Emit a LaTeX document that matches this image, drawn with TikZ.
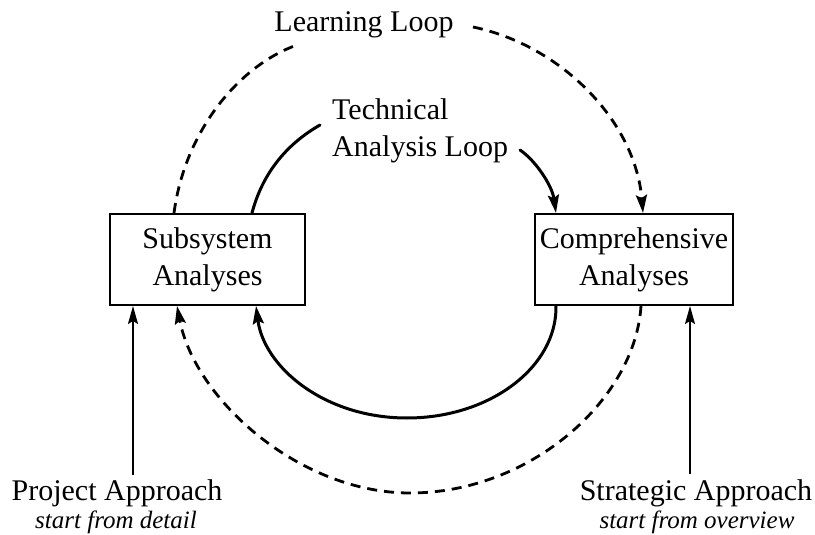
\documentclass[tikz,border=0pt]{standalone}
\usepackage{fontspec}
\setmainfont{Liberation Serif}
\usetikzlibrary{arrows.meta,calc}
\begin{document}
\begin{tikzpicture}[x=1pt,y=-1pt,
  box/.style={draw, line width=2pt, minimum width=195pt, minimum height=91pt, inner sep=0pt, align=center, font=\fontsize{30}{37}\selectfont},
  lbl/.style={font=\fontsize{30}{37}\selectfont, inner sep=0pt, align=center},
  sublbl/.style={font=\fontsize{25}{30}\selectfont\itshape, inner sep=0pt},
  tip/.style={-{Stealth[length=18pt,width=11pt,inset=3pt]}},
  solidline/.style={line width=3pt, line cap=round},
  dashline/.style={line width=2.8pt, dash pattern=on 10pt off 7pt},
  thinline/.style={line width=1.6pt, -{Stealth[length=18pt,width=10pt,inset=3pt]}}
]
\useasboundingbox (0,0) rectangle (815,535);

% boxes
\node[box] (S) at (207.5,259.5) {Subsystem\\Analyses};
\node[box, minimum width=198pt] (C) at (634,259.5) {Comprehensive\\Analyses};

% labels
\node[lbl] (LL) at (364,25) {Learning Loop};
\node[lbl, align=left, anchor=west] (TL) at (332,131) {Technical\\Analysis Loop};
\node[lbl] (PA) at (117,493) {Project Approach};
\node[sublbl] (PAs) at (116,522) {start from detail};
\node[lbl] (SA) at (696,493) {Strategic Approach};
\node[sublbl] (SAs) at (697,522) {start from overview};

% free ends
\coordinate (ll1) at (297,45);
\coordinate (ll2) at (473,27);
\coordinate (tl1) at (320,125);
\coordinate (tl2) at (520,150);
\coordinate (pa) at (133,475);
\coordinate (sa) at (690,474);

% learning loop (top)
\draw[dashline] ([xshift=65pt]S.north west) .. controls (185,130) and (240,65) .. (ll1);
\draw[dashline, tip] (ll2) .. controls (560,45) and (635,120) .. ([xshift=109pt]C.north west);

% technical analysis loop (top)
\draw[solidline] ([xshift=143pt]S.north west) .. controls (262,175) and (285,145) .. (tl1);
\draw[solidline, tip] (tl2) .. controls (535,160) and (552,185) .. ([xshift=22pt]C.north west);

% technical analysis loop (bottom)
\draw[solidline, tip] ([xshift=22pt]C.south west) .. controls (557,367) and (490,418) .. (407,418)
  .. controls (324,418) and (264,367) .. ([xshift=147pt]S.south west);

% learning loop (bottom)
\draw[dashline, tip] ([xshift=107pt]C.south west) .. controls (635,400) and (530,493) .. (410,493)
  .. controls (300,493) and (195,400) .. ([xshift=68pt]S.south west);

% approaches
\draw[thinline] (pa) -- (pa |- S.south);
\draw[thinline] (sa) -- (sa |- C.south);
\end{tikzpicture}
\end{document}
